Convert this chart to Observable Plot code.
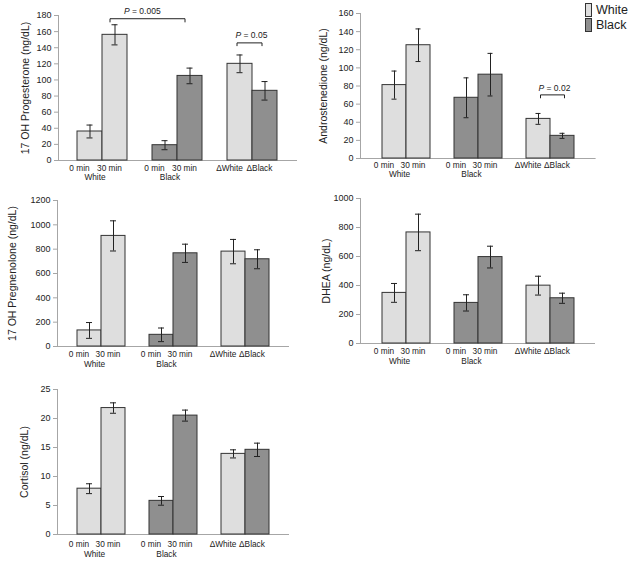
<!DOCTYPE html>
<html>
<head>
<meta charset="utf-8">
<script src="https://cdn.jsdelivr.net/npm/d3@7"></script>
<script src="https://cdn.jsdelivr.net/npm/@observablehq/plot@0.6"></script>
<style>
  body { margin: 0; background: #fff; font-family: "Liberation Sans", Arial, sans-serif; }
  #wrap { position: relative; width: 633px; height: 562px; overflow: hidden; }
  .panel { position: absolute; }
  .legend { position: absolute; left: 585px; top: 3px; font-size: 12.5px; color: #222; line-height: 14px; }
  .legend .row { display: flex; align-items: center; height: 14px; margin-bottom: 1px; }
  .legend .sw { width: 5px; height: 12px; border: 1px solid #333; margin-right: 4px; }
</style>
</head>
<body>
<div id="wrap">
  <div class="legend">
    <div class="row"><span class="sw" style="background:#dedede"></span>White</div>
    <div class="row"><span class="sw" style="background:#8f8f8f"></span>Black</div>
  </div>
</div>
<script>
// ---------- data ----------
const keys = ["W0", "W30", "gap1", "B0", "B30", "gap2", "DW", "DB"];
const barKeys = ["W0", "W30", "B0", "B30", "DW", "DB"];
const barLabels = ["0 min", "30 min", "0 min", "30 min", "\u0394White", "\u0394Black"];
const barRace = ["White", "White", "Black", "Black", "White", "Black"];
const barSlot = ["first", "second", "first", "second", "first", "second"];
const groupKeys = ["W0", "B0"];
const groupNames = ["White", "Black"];

const progesterone = [36, 156, 19, 105, 120, 86.5];
const progesteroneErr = [8, 12.5, 5.6, 9.7, 11, 11.5];
const progesteroneTicks = [0, 20, 40, 60, 80, 100, 120, 140, 160, 180];

const androstenedione = [81, 125, 67, 92.5, 43.7, 25];
const androstenedioneErr = [15.5, 18, 22, 23.5, 6, 2.8];
const androstenedioneTicks = [0, 20, 40, 60, 80, 100, 120, 140, 160];

const pregnenolone = [132, 909, 96, 766, 780, 717];
const pregnenoloneErr = [65, 124, 56, 75, 100, 78];
const pregnenoloneTicks = [0, 200, 400, 600, 800, 1000, 1200];

const dhea = [349, 766, 280, 596, 399, 312];
const dheaErr = [65, 126, 56, 75, 65, 35];
const dheaTicks = [0, 200, 400, 600, 800, 1000];

const cortisol = [7.9, 21.8, 5.8, 20.5, 13.9, 14.6];
const cortisolErr = [0.85, 0.9, 0.75, 0.95, 0.7, 1.15];
const cortisolTicks = [0, 5, 10, 15, 20, 25];

// significance brackets: from / to category, bracket level, label level (data units)
const progesteroneBrackets = [
  {from: "W30", to: "B30", y: 176, y0: 172, ty: 185, text: "P = 0.005"},
  {from: "DW", to: "DB", y: 146, y0: 142.5, ty: 156, text: "P = 0.05"}
];
const androstenedioneBrackets = [
  {from: "DW", to: "DB", y: 70.2, y0: 66.9, ty: 78, text: "P = 0.02"}
];

const LIGHT = "#dedede", DARK = "#8f8f8f", AXIS = "#a6a6a6", INK = "#222";

function panel(cfg) {
  const rows = barKeys.map((k, i) => ({key: k, race: barRace[i], slot: barSlot[i], label: barLabels[i], v: cfg.values[i], e: cfg.errs[i]}));
  const groups = groupKeys.map((k, i) => ({key: k, name: groupNames[i]}));
  const cap = cfg.cap;
  const catText = {x: "key", text: "label", frameAnchor: "bottom", textAnchor: "middle", lineAnchor: "top", dy: cfg.catDy, fontSize: 8.3, fill: INK};
  const marks = [
    Plot.ruleY([0], {stroke: AXIS}),
    Plot.frame({anchor: "left", stroke: AXIS}),
    Plot.barY(rows, {x: "key", y: "v", fill: d => d.race === "White" ? LIGHT : DARK, stroke: "#333", strokeWidth: 1}),
    Plot.ruleX(rows, {x: "key", y1: d => d.v - d.e, y2: d => d.v + d.e, stroke: INK, strokeWidth: 1}),
    Plot.tickY(rows, {x: "key", y: d => d.v + d.e, stroke: INK, insetLeft: cap, insetRight: cap}),
    Plot.tickY(rows, {x: "key", y: d => d.v - d.e, stroke: INK, insetLeft: cap, insetRight: cap}),
    Plot.axisY(cfg.ticks, {tickSize: 4, tickPadding: 3, fontSize: 9, stroke: AXIS, fill: INK, label: null, tickFormat: d => String(d)}),
    Plot.text(rows.filter(d => d.slot === "first"), {...catText, dx: -10.5}),
    Plot.text(rows.filter(d => d.slot === "second"), {...catText, dx: -5.5}),
    Plot.text(groups, {x: "key", text: "name", frameAnchor: "bottom", textAnchor: "middle", lineAnchor: "top", dy: cfg.grpDy, dx: 5, fontSize: 8.3, fill: INK}),
    Plot.text([cfg.label], {text: d => d, frameAnchor: "left", textAnchor: "middle", lineAnchor: "middle", rotate: -90, dx: cfg.labelDx, fontSize: 10.5, fill: INK})
  ];
  (cfg.brackets || []).forEach((b, j) => {
    const pts = [
      {x: b.from, y: b.y0}, {x: b.from, y: b.y}, {x: b.to, y: b.y}, {x: b.to, y: b.y0}
    ];
    marks.push(Plot.line(pts, {x: "x", y: "y", stroke: INK, strokeWidth: 1, dx: cfg.bracketDx[j]}));
    marks.push(Plot.text([b], {x: "from", y: "ty", text: "text", textAnchor: "start", lineAnchor: "middle", dx: cfg.textDx[j], fontSize: 8.5, fill: INK}));
  });
  const svg = Plot.plot({
    width: cfg.width, height: cfg.height,
    marginLeft: cfg.mL, marginRight: cfg.mR, marginTop: cfg.mT, marginBottom: cfg.mB,
    style: {fontFamily: "'Liberation Sans', Arial, sans-serif", background: "transparent", overflow: "visible"},
    x: {domain: keys, padding: 0, insetLeft: cfg.inL, insetRight: cfg.inR, axis: null},
    y: {domain: [0, cfg.ticks[cfg.ticks.length - 1]], axis: null},
    marks
  });
  svg.querySelectorAll("text").forEach(t => {
    const s = t.textContent;
    if (s.startsWith("P = ")) {
      const rest = s.slice(1);
      t.textContent = "";
      const ns = "http://www.w3.org/2000/svg";
      const a = document.createElementNS(ns, "tspan");
      a.setAttribute("font-style", "italic");
      a.textContent = "P";
      const b = document.createElementNS(ns, "tspan");
      b.textContent = rest;
      t.appendChild(a); t.appendChild(b);
    }
  });
  const div = document.createElement("div");
  div.className = "panel";
  div.style.left = cfg.left + "px";
  div.style.top = cfg.top + "px";
  div.appendChild(svg);
  document.getElementById("wrap").appendChild(div);
}

panel({values: progesterone, errs: progesteroneErr, ticks: progesteroneTicks, label: "17 OH Progesterone (ng/dL)",
  left: 0, top: 0, width: 316, height: 185, mL: 58, mR: 19, mT: 15, mB: 25, inL: 19, inR: 20, cap: 9.5,
  labelDx: -33, catDy: 5, grpDy: 14, brackets: progesteroneBrackets, bracketDx: [-5, -3], textDx: [9, -4.5]});

panel({values: androstenedione, errs: androstenedioneErr, ticks: androstenedioneTicks, label: "Androstenedione (ng/dL)",
  left: 310, top: 0, width: 323, height: 185, mL: 50, mR: 37.4, mT: 13, mB: 27, inL: 19, inR: 19, cap: 9.5,
  labelDx: -37, catDy: 4, grpDy: 13, brackets: androstenedioneBrackets, bracketDx: [2], textDx: [0]});

panel({values: pregnenolone, errs: pregnenoloneErr, ticks: pregnenoloneTicks, label: "17 OH Pregnenolone (ng/dL)",
  left: 0, top: 185, width: 316, height: 185, mL: 57, mR: 27, mT: 15, mB: 24, inL: 20, inR: 20, cap: 9,
  labelDx: -44.5, catDy: 5, grpDy: 15});

panel({values: dhea, errs: dheaErr, ticks: dheaTicks, label: "DHEA (ng/dL)",
  left: 310, top: 185, width: 323, height: 185, mL: 50, mR: 38, mT: 13, mB: 27, inL: 20, inR: 20, cap: 9,
  labelDx: -34, catDy: 5, grpDy: 15});

panel({values: cortisol, errs: cortisolErr, ticks: cortisolTicks, label: "Cortisol (ng/dL)",
  left: 0, top: 370, width: 316, height: 192, mL: 57, mR: 27, mT: 19, mB: 28, inL: 20, inR: 20, cap: 9,
  labelDx: -33, catDy: 7, grpDy: 17});
</script>
</body>
</html>
